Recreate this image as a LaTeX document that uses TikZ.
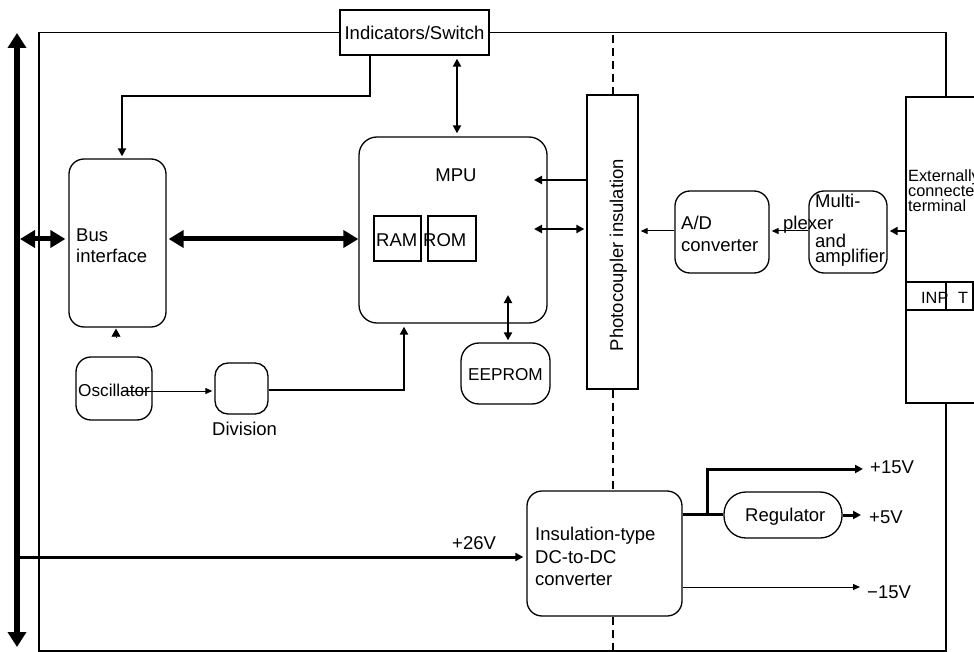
\documentclass[tikz,border=0pt]{standalone}
\usepackage{fontspec}
\setmainfont{Liberation Sans}
\usetikzlibrary{arrows.meta,calc}
\newcommand{\fnorm}{\fontsize{18.5}{22}\selectfont}
\newcommand{\fsmall}{\fontsize{16.3}{15}\selectfont}
\begin{document}
\begin{tikzpicture}[x=1pt,y=-1pt,
  every node/.style={inner sep=0pt, font=\fnorm},
  sqbox/.style={draw, line width=1.3pt},
  rbox/.style={draw, line width=1.3pt, rounded corners=15pt},
  txt/.style={anchor=base west},
  ctxt/.style={anchor=base},
  frameline/.style={line width=1.4pt},
  busline/.style={line width=6pt, {Triangle[length=15pt,width=18pt]}-{Triangle[length=15pt,width=18pt]}},
  bigarr/.style={line width=5pt, {Triangle[length=15pt,width=17pt]}-{Triangle[length=15pt,width=17pt]}},
  med/.style={line width=2.5pt},
  medtip/.style={-{Triangle[length=8pt,width=8pt]}},
  medboth/.style={{Triangle[length=8pt,width=8pt]}-{Triangle[length=8pt,width=8pt]}},
  thinline/.style={line width=1pt},
  thintip/.style={-{Triangle[length=7pt,width=6pt]}},
  isol/.style={line width=1.8pt, dash pattern=on 8pt off 5pt}
]
\useasboundingbox (0,0) rectangle (974,652);
\clip (0,0) rectangle (974,652);

% ---- boxes ----
\node[sqbox, minimum width=149pt, minimum height=45pt] (ind) at (414.5,32.5) {Indicators/Switch};
\node[rbox, minimum width=97pt, minimum height=168pt] (bus) at (117.5,243) {};
\node[rbox, rounded corners=18pt, minimum width=188pt, minimum height=186pt] (mpu) at (453,230) {};
\node[sqbox, minimum width=47pt, minimum height=45pt] (ram) at (397.5,238.5) {};
\node[sqbox, minimum width=48pt, minimum height=45pt] (rom) at (452,238.5) {};
\node[sqbox, minimum width=51pt, minimum height=294pt] (pc) at (612.5,242) {};
\node[rbox, minimum width=94pt, minimum height=82pt] (ad) at (722,232) {};
\node[rbox, minimum width=78pt, minimum height=82pt] (mux) at (848,232) {};
\node[sqbox, minimum width=94pt, minimum height=306pt] (ext) at (953,250) {};
\node[sqbox, minimum width=40pt, minimum height=28pt] (inp) at (926,296) {};
\node[sqbox, minimum width=27pt, minimum height=28pt] (tb) at (959.5,296) {};
\node[rbox, rounded corners=18pt, minimum width=89pt, minimum height=61pt] (eep) at (505.5,373.5) {};
\node[rbox, minimum width=76pt, minimum height=63pt] (osc) at (114,388.5) {};
\node[rbox, rounded corners=13pt, minimum width=53pt, minimum height=51pt] (div) at (241.5,388.5) {};
\node[rbox, minimum width=155pt, minimum height=125pt] (dc) at (604.5,553.5) {};
\node[rbox, rounded corners=22pt, minimum width=118pt, minimum height=46pt] (reg) at (783,515) {};

% ---- texts ----
\node[txt] (bus1) at (76,242) {Bus};
\node[txt] (bus2) at (76,263) {interface};
\node[ctxt] (mput) at (456,182) {MPU};
\node[txt] (ramt) at (376,247) {RAM};
\node[txt] (romt) at (423,247) {ROM};
\node[rotate=90, anchor=base] (pct) at (623,255) {Photocoupler insulation};
\node[txt] (ad1) at (681,230) {A/D};
\node[txt] (ad2) at (681,252) {converter};
\node[txt] (mx1) at (815,208) {Multi-};
\node[txt] (mx2) at (783,230) {plexer};
\node[txt] (mx3) at (815,248) {and};
\node[txt] (mx4) at (815,263) {amplifier};
\node[txt, font=\fsmall] (ex1) at (908,182) {Externally};
\node[txt, font=\fsmall] (ex2) at (908,197) {connected};
\node[txt, font=\fsmall] (ex3) at (908,212) {terminal};
\node[txt, font=\fsmall] (inpt) at (921,303) {INP};
\node[txt, font=\fsmall] (tt) at (958,303) {T};
\node[ctxt, font=\fontsize{17.2}{20}\selectfont] (eept) at (505.5,380.5) {EEPROM};
\node[txt, font=\fontsize{17.2}{20}\selectfont] (osct) at (78,396) {Oscillator};
\node[txt] (divt) at (212,435) {Division};
\node[txt] (v26) at (452,549) {+26V};
\node[txt] (dc1) at (535,540) {Insulation-type};
\node[txt] (dc2) at (535,563) {DC-to-DC};
\node[txt] (dc3) at (535,585) {converter};
\node[txt] (regt) at (745,521) {Regulator};
\node[txt] (v15) at (870,473) {+15V};
\node[txt] (v5) at (869,523) {+5V};
\node[txt] (vm15) at (867,598) {\char"2212 15V};

% ---- frame ----
\draw[frameline] (ind.west) -- (39,32.5) -- (39,651) -- (946,651) -- (ext.south -| 946,0);
\draw[frameline] (ext.north -| 946,0) -- (946,32.5) -- (ind.east);

% ---- isolation line ----
\coordinate (isotop) at (613,35);
\coordinate (isobot) at (613,651);
\draw[isol] (isotop) -- (pc.north -| isotop);
\draw[isol] (pc.south -| isotop) -- (dc.north -| isotop);
\draw[isol] (dc.south -| isotop) -- (isobot);

% ---- system bus ----
\coordinate (bustop) at (17,33);
\coordinate (busbot) at (17,647);
\draw[busline] (bustop) -- (busbot);

% ---- connectors ----
\draw[bigarr] (20,239) -- ([xshift=-3pt]bus.west |- 0,239);
\draw[bigarr] ([xshift=2pt]bus.east |- 0,239) -- (mpu.west |- 0,239);
\draw[med, medtip] (ind.south -| 370,0) -- (370,96) -- (122,96) -- ([yshift=2pt]bus.north -| 122,0);
\draw[med, medboth] ([yshift=-3pt]ind.south -| 457,0) -- ([yshift=3pt]mpu.north -| 457,0);
\coordinate (mpuin1) at (534,180);
\coordinate (mpuin2) at (534,229);
\draw[med, medtip] (pc.west |- mpuin1) -- (mpuin1);
\draw[med, medboth] (mpuin2) -- ([xshift=-2pt]pc.west |- mpuin2);
\draw[thinline, thintip] (ad.west |- 0,231) -- ([xshift=2pt]pc.east |- 0,231);
\draw[thinline, thintip] (mux.west |- 0,231) -- ([xshift=2pt]ad.east |- 0,231);
\draw[med, medtip] (ext.west |- 0,231) -- ([xshift=2pt]mux.east |- 0,231);
\coordinate (mpuin3) at (508,295);
\draw[med, medboth] (mpuin3) -- ([yshift=2pt]eep.north -| mpuin3);
\coordinate (oscup) at (116,337);
\draw[line width=0.6pt, -{Triangle[length=8pt,width=9pt]}] (oscup) -- ([yshift=-1pt]bus.south -| oscup);
\coordinate (oscin) at (123,391);
\draw[thinline, thintip] (oscin) -- ([xshift=-2pt]div.west |- oscin);
\draw[med, medtip] (div.east |- 0,390) -- (404,390) -- ([yshift=-3pt]mpu.south -| 404,0);
\draw[line width=3pt, -{Triangle[length=8pt,width=8pt]}] (bustop |- 0,557) -- ([xshift=-3pt]dc.west |- 0,557);
\coordinate (p15) at (863,469);
\coordinate (p5) at (861,515);
\coordinate (m15) at (860,587);
\draw[line width=3pt] (dc.east |- 0,514) -- (reg.west |- 0,514);
\draw[line width=3pt, -{Triangle[length=8pt,width=8pt]}] (707,514) -- (707,469) -- (p15);
\draw[line width=3pt, -{Triangle[length=8pt,width=8pt]}] (reg.east) -- (p5);
\draw[thinline, thintip] (dc.east |- m15) -- (m15);
\end{tikzpicture}
\end{document}
